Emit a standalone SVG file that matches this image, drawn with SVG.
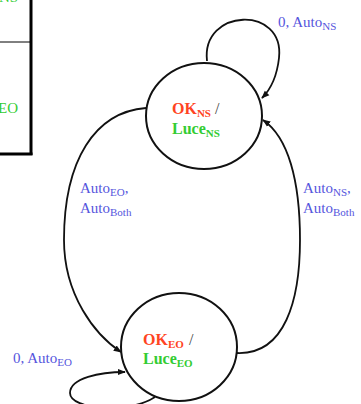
<svg xmlns="http://www.w3.org/2000/svg" width="361" height="404" viewBox="0 0 361 404">
<style>
.st{fill:none;stroke:#111;stroke-width:2}
.ed{fill:none;stroke:#111;stroke-width:1.8}
.r{font-family:"Liberation Serif",serif;font-weight:bold;font-size:16px;fill:#ff4422}
.g{font-family:"Liberation Serif",serif;font-weight:bold;font-size:16px;fill:#33cc33}
.sl{font-family:"Liberation Serif",serif;font-size:16px;fill:#444}
.b{font-family:"Liberation Serif",serif;font-size:15px;fill:#5555dd}
.sub{font-size:11px}
</style>
<defs>
<marker id="ah" viewBox="0 0 10 10" refX="9" refY="5" markerWidth="8" markerHeight="8" markerUnits="userSpaceOnUse" orient="auto">
<path d="M0,1 L10,5 L0,9 Z" fill="#111"/>
</marker>
</defs>
<g id="table">
<line x1="31" y1="0" x2="31" y2="155" stroke="#000" stroke-width="3"/>
<line x1="0" y1="42" x2="31" y2="42" stroke="#000" stroke-width="1"/>
<line x1="0" y1="154" x2="32.5" y2="154" stroke="#000" stroke-width="3"/>
<text x="-1" y="1.5" font-family="Liberation Serif,serif" font-size="15" fill="#33cc33">NS</text>
<text x="-2" y="113" font-family="Liberation Serif,serif" font-size="15" fill="#33cc33">EO</text>
</g>
<g id="edges">
<path class="ed" d="M207,61 C201,8 285,5 279,58 C277,76 270,90 262,98" marker-end="url(#ah)"/>
<path class="ed" d="M146,108 C95,112 64,160 64,240 C64,295 95,335 121,352" marker-end="url(#ah)"/>
<path class="ed" d="M237,353 C285,355 300,300 300,240 C300,180 288,137 263,120" marker-end="url(#ah)"/>
<path class="ed" d="M155,397 C130,414 70,410 70,393 C70,378 100,372 125,372" marker-end="url(#ah)"/>
<text class="b" x="278" y="27">0, Auto<tspan class="sub" dy="3">NS</tspan></text>
<text class="b" x="80" y="193">Auto<tspan class="sub" dy="3">EO</tspan><tspan dy="-3">,</tspan></text>
<text class="b" x="80" y="213">Auto<tspan class="sub" dy="3">Both</tspan></text>
<text class="b" x="303" y="193">Auto<tspan class="sub" dy="3">NS</tspan><tspan dy="-3">,</tspan></text>
<text class="b" x="303" y="213">Auto<tspan class="sub" dy="3">Both</tspan></text>
<text class="b" x="13" y="363">0, Auto<tspan class="sub" dy="3">EO</tspan></text>
</g>
<g id="stateNS">
<ellipse class="st" cx="204" cy="116" rx="58" ry="53"/>
<text class="r" x="172" y="114">OK<tspan class="sub" dy="3">NS</tspan></text>
<text class="sl" x="215" y="114">/</text>
<text class="g" x="172" y="134">Luce<tspan class="sub" dy="3">NS</tspan></text>
</g>
<g id="stateEO">
<ellipse class="st" cx="179" cy="347" rx="58" ry="54"/>
<text class="r" x="143" y="345">OK<tspan class="sub" dy="3">EO</tspan></text>
<text class="sl" x="189" y="345">/</text>
<text class="g" x="143" y="364">Luce<tspan class="sub" dy="3">EO</tspan></text>
</g>
</svg>
